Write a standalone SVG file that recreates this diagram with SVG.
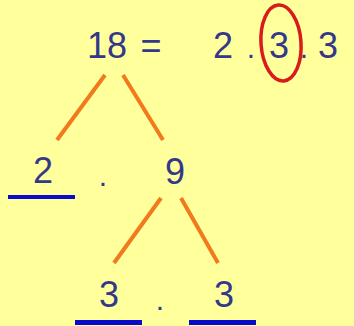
<svg xmlns="http://www.w3.org/2000/svg" width="354" height="326" viewBox="0 0 354 326">
<style>
.t{font-family:"Liberation Sans",Arial,sans-serif;font-size:36px;fill:#34388a;text-anchor:middle}
.d{font-family:"Liberation Sans",Arial,sans-serif;font-size:30px;fill:#34388a;text-anchor:middle}
.e{stroke:#f07a1c;stroke-width:4;stroke-linecap:butt;fill:none}
.u{fill:#0a0acc}
</style>
<rect width="354" height="326" fill="#ffff9c"/>
<g id="connectors">
<line class="e" x1="105" y1="75" x2="57" y2="140"/>
<line class="e" x1="123" y1="75" x2="163" y2="140"/>
<line class="e" x1="161" y1="198" x2="114" y2="263"/>
<line class="e" x1="181" y1="198" x2="218" y2="263"/>
</g>
<g id="root">
<text class="t" x="107" y="58">18</text>
<text class="t" x="151" y="58">=</text>
<text class="t" x="223" y="58">2</text>
<text class="d" x="251" y="58">.</text>
<text class="t" x="279" y="58">3</text>
<text class="d" x="304" y="58">.</text>
<text class="t" x="328" y="58">3</text>
<ellipse cx="281" cy="43" rx="20" ry="38" fill="none" stroke="#d81c1c" stroke-width="3.5" transform="rotate(-4 281 43)"/>
</g>
<g id="n2">
<text class="t" x="43" y="183">2</text>
<rect class="u" x="8" y="195" width="67" height="4"/>
</g>
<text class="d" x="103" y="186">.</text>
<g id="n9">
<text class="t" x="175" y="184">9</text>
</g>
<g id="n3a">
<text class="t" x="109" y="307">3</text>
<rect class="u" x="75" y="320" width="67" height="5"/>
</g>
<text class="d" x="160" y="310">.</text>
<g id="n3b">
<text class="t" x="224" y="307">3</text>
<rect class="u" x="189" y="320" width="67" height="5"/>
</g>
</svg>
